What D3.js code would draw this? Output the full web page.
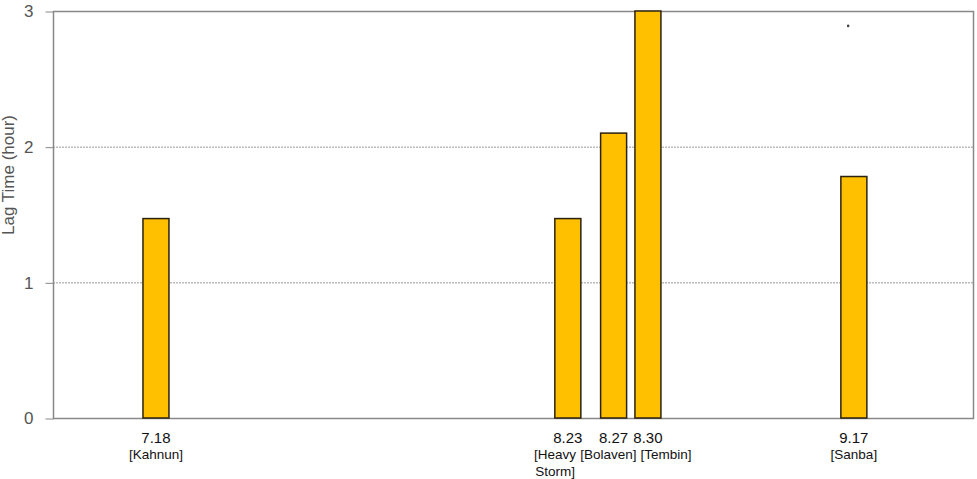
<!DOCTYPE html>
<html>
<head>
<meta charset="utf-8">
<script src="https://cdn.jsdelivr.net/npm/d3@7"></script>
<style>
  body { margin: 0; background: #fff; }
  svg { display: block; font-family: "Liberation Sans", Arial, sans-serif; }
</style>
</head>
<body>
<svg></svg>
<script>
var width = 977;
var height = 479;

// event dates (2012), labels and lag times
var dates = ["2012-07-18", "2012-08-23", "2012-08-27", "2012-08-30", "2012-09-17"];
var dateLabels = ["7.18", "8.23", "8.27", "8.30", "9.17"];
var names = [["[Kahnun]"], ["[Heavy", "Storm]"], ["[Bolaven]"], ["[Tembin]"], ["[Sanba]"]];
var lagTimes = [1.47, 1.47, 2.1, 3.0, 1.78];
var yTicks = [0, 1, 2, 3];
// stray point marker seen near 9.17
var dotDates = ["2012-09-16 12:00"];
var dotValues = [2.89];

var margin = {top: 11, right: 3, bottom: 61, left: 53};
var parse = d3.timeParse("%Y-%m-%d");
var parseHour = d3.timeParse("%Y-%m-%d %H:%M");

var svg = d3.select("svg")
    .attr("width", width)
    .attr("height", height);

//time based x-scale
var xScale = d3.scaleTime()
    .domain([parse("2012-07-09"), parseHour("2012-09-27 12:00")])
    .range([margin.left, width - margin.right]);

var yScale = d3.scaleLinear()
    .domain([0, 3])
    .range([height - margin.bottom, margin.top]);

var barWidth = 26;

//gridlines at 1 and 2
svg.selectAll(".grid")
    .data(yTicks.filter(d => d > 0 && d < 3))
    .enter()
    .append("line")
        .attr("x1", margin.left)
        .attr("x2", width - margin.right)
        .attr("y1", d => yScale(d) + 0.5)
        .attr("y2", d => yScale(d) + 0.5)
        .attr("stroke", "#999")
        .attr("stroke-dasharray", "2,1");

//y axis with ticks
var yAxis = d3.axisLeft(yScale)
    .tickValues(yTicks)
    .tickFormat(d3.format("d"))
    .tickSize(8)
    .tickPadding(12);
var yg = svg.append("g")
    .attr("transform", "translate(" + (margin.left + 0.5) + ",0.5)")
    .call(yAxis);
yg.select(".domain").remove();
yg.selectAll("line").attr("stroke", "#888");
yg.selectAll("text")
    .attr("fill", "#555")
    .style("font-size", "17px");

//frame round the plot area
svg.append("rect")
    .attr("x", margin.left + 0.5)
    .attr("y", margin.top + 0.5)
    .attr("width", width - margin.left - margin.right - 1)
    .attr("height", height - margin.top - margin.bottom)
    .attr("fill", "none")
    .attr("stroke", "#888")
    .attr("stroke-width", 1.5);

//bars
var rows = dates.map((d, i) => ({date: parse(d), value: lagTimes[i], label: dateLabels[i], name: names[i]}));

svg.selectAll(".bar")
    .data(rows)
    .enter()
    .append("rect")
        .attr("class", "bar")
        .attr("x", d => xScale(d.date) - barWidth / 2)
        .attr("y", d => yScale(d.value))
        .attr("width", barWidth)
        .attr("height", d => yScale(0) - yScale(d.value))
        .attr("fill", "#FFC000")
        .attr("stroke", "#2b2210")
        .attr("stroke-width", 1.5);

//stray dot
svg.selectAll(".dot")
    .data(dotDates.map((d, i) => ({date: parseHour(d), value: dotValues[i]})))
    .enter()
    .append("circle")
        .attr("cx", d => xScale(d.date))
        .attr("cy", d => yScale(d.value))
        .attr("r", 1.3)
        .attr("fill", "#444");

//date labels under the bars
var dateText = svg.selectAll(".datelabel")
    .data(rows)
    .enter()
    .append("text")
        .attr("class", "datelabel")
        .attr("text-anchor", "middle")
        .attr("fill", "#111")
        .style("font-size", "15px")
        .attr("x", d => xScale(d.date))
        .attr("y", 443)
        .text(d => d.label);

//event names, may wrap onto two lines
var nameText = svg.selectAll(".namelabel")
    .data(rows)
    .enter()
    .append("text")
        .attr("class", "namelabel")
        .attr("text-anchor", "middle")
        .attr("fill", "#111")
        .style("font-size", "13.5px")
        .attr("x", d => xScale(d.date));
nameText.each(function(d) {
    var t = d3.select(this);
    d.name.forEach((line, j) => {
        t.append("tspan")
            .attr("x", xScale(d.date))
            .attr("y", 459 + j * 17)
            .text(line);
    });
});

//push neighbouring labels apart when they collide
function spread(sel, gap) {
    var items = sel.nodes().map(n => ({node: n, x: +n.getAttribute("x"), w: n.getBBox().width}));
    for (var k = 0; k < 60; k++) {
        for (var i = 0; i < items.length - 1; i++) {
            var a = items[i], b = items[i + 1];
            var overlap = (a.x + a.w / 2 + gap) - (b.x - b.w / 2);
            if (overlap > 0) {
                a.x -= overlap / 2;
                b.x += overlap / 2;
            }
        }
    }
    items.forEach(it => {
        d3.select(it.node).attr("x", it.x);
        d3.select(it.node).selectAll("tspan").attr("x", it.x);
    });
}
spread(dateText, 4);
spread(nameText, 4);

//y axis title at the left edge
svg.append("text")
    .attr("transform", "translate(14," + 175 + ") rotate(-90)")
    .attr("text-anchor", "middle")
    .attr("fill", "#555")
    .style("font-size", "17px")
    .text("Lag Time (hour)");
</script>
</body>
</html>
